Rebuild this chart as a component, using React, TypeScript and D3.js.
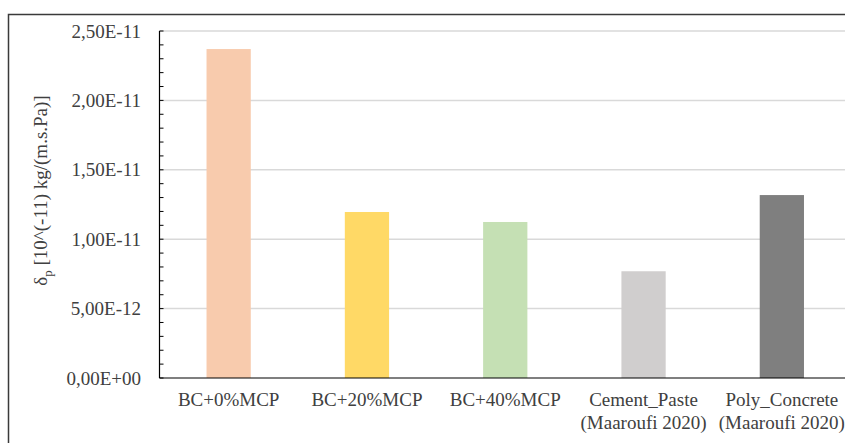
import React from "react";
import * as d3 from "d3";

const categories: string[][] = [
  ["BC+0%MCP"],
  ["BC+20%MCP"],
  ["BC+40%MCP"],
  ["Cement_Paste", "(Maaroufi 2020)"],
  ["Poly_Concrete", "(Maaroufi 2020)"],
];
const values: number[] = [2.37e-11, 1.196e-11, 1.124e-11, 7.69e-12, 1.318e-11];
const colors: string[] = ["#F8CBAD", "#FFD966", "#C5E0B4", "#D0CECE", "#7F7F7F"];
const yTicks: number[] = [0, 5e-12, 1e-11, 1.5e-11, 2e-11, 2.5e-11];
const yTickLabels: string[] = ["0,00E+00", "5,00E-12", "1,00E-11", "1,50E-11", "2,00E-11", "2,50E-11"];

export default function App() {
  const W = 845, H = 443;
  const left = 159.5, right = 851, top = 31, bottom = 378;
  const font = "Times New Roman, Liberation Serif, Tinos, DejaVu Serif, serif";
  const x = d3.scaleBand<number>().domain(d3.range(categories.length)).range([left, right]).paddingInner(0.68).paddingOuter(0.34);
  const y = d3.scaleLinear().domain([0, 2.5e-11]).range([bottom, top]);
  const minor = d3.range(0, 2.5e-11 + 1e-13, 1e-12);

  return (
    <svg width={W} height={H} style={{ position: "absolute", left: 0, top: 0, background: "#fff", fontFamily: font }}>
      <rect x={0} y={0} width={W} height={H} fill="#fff" />
      <rect x={8.5} y={14.5} width={1000} height={1000} fill="none" stroke="#3a3a3a" strokeWidth={1.5} />
      {yTicks.slice(1).map((t, i) => (
        <line key={"g" + i} x1={left} x2={right} y1={y(t)} y2={y(t)} stroke="#d9d9d9" strokeWidth={1.5} />
      ))}
      {values.map((v, i) => (
        <rect key={"b" + i} x={x(i)!} width={x.bandwidth()} y={y(v)} height={bottom - y(v)} fill={colors[i]} />
      ))}
      {minor.map((t, i) => (
        <line key={"m" + i} x1={left} x2={left + 4} y1={y(t)} y2={y(t)} stroke="#000" strokeWidth={1} />
      ))}
      <line x1={left} x2={left} y1={top} y2={bottom} stroke="#000" strokeWidth={1.2} />
      <line x1={left} x2={right} y1={bottom} y2={bottom} stroke="#000" strokeWidth={1.2} />
      {yTicks.map((t, i) => (
        <text key={"yl" + i} x={141} y={y(t)} dy="0.35em" textAnchor="end" style={{ fontFamily: font }} fontSize={19} fill="#404040">
          {yTickLabels[i]}
        </text>
      ))}
      {categories.map((lines, i) => (
        <text key={"xl" + i} x={x(i)! + x.bandwidth() / 2} y={406} textAnchor="middle" style={{ fontFamily: font }} fontSize={19} fill="#404040">
          {lines.map((l, j) => (
            <tspan key={j} x={x(i)! + x.bandwidth() / 2} dy={j === 0 ? 0 : 23}>{l}</tspan>
          ))}
        </text>
      ))}
      <text transform={`translate(47,${(top + bottom) / 2 - 14}) rotate(-90)`} textAnchor="middle" style={{ fontFamily: font }} fontSize={19} fill="#404040">
        δ<tspan fontSize={13} dy={5}>p</tspan><tspan dy={-5}> [10^(-11) kg/(m.s.Pa)]</tspan>
      </text>
    </svg>
  );
}
